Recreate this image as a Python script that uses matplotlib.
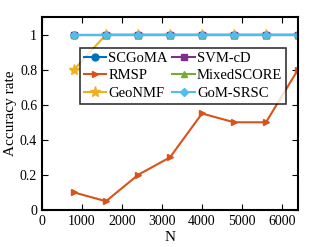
import matplotlib

matplotlib.use("Agg")
import matplotlib.pyplot as plt

plt.rcParams["font.family"] = ["Liberation Serif", "DejaVu Serif"]
plt.rcParams["mathtext.fontset"] = "stix"

N = [800, 1600, 2400, 3200, 4000, 4800, 5600, 6400]
scgoma = [1, 1, 1, 1, 1, 1, 1, 1]
rmsp = [0.1, 0.05, 0.2, 0.3, 0.55, 0.5, 0.5, 0.8]
geonmf = [0.8, 1, 1, 1, 1, 1, 1, 1]
svmcd = [1, 1, 1, 1, 1, 1, 1, 1]
mixedscore = [1, 1, 1, 1, 1, 1, 1, 1]
gomsrsc = [1, 1, 1, 1, 1, 1, 1, 1]

series = [
    ("SCGoMA", scgoma, (0, 0.447, 0.741), "o"),
    ("RMSP", rmsp, (0.85, 0.325, 0.098), ">"),
    ("GeoNMF", geonmf, (0.929, 0.694, 0.125), "*"),
    ("SVM-cD", svmcd, (0.494, 0.184, 0.556), "s"),
    ("MixedSCORE", mixedscore, (0.466, 0.674, 0.188), "^"),
    ("GoM-SRSC", gomsrsc, (0.301, 0.745, 0.933), "D"),
]

fig = plt.figure(figsize=(3.29, 2.47), dpi=100)
ax = fig.add_axes([42 / 329, 37 / 247, 256 / 329, 193 / 247])

for name, vals, col, mk in series:
    ms = 8 if mk == "*" else 5
    if mk == "D":
        ms = 4
    ax.plot(N, vals, color=col, marker=mk, markersize=ms, linewidth=1.5,
            label=name)

ax.set_xlim(0, 6400)
ax.set_ylim(0, 1.1)
ax.set_xticks(range(0, 7000, 1000))
ax.set_yticks([0, 0.2, 0.4, 0.6, 0.8, 1])
ax.set_yticklabels(["0", "0.2", "0.4", "0.6", "0.8", "1"])
ax.tick_params(direction="in", top=True, right=True, labelsize=10, length=4,
               width=0.8)
for s in ax.spines.values():
    s.set_linewidth(1.5)
ax.set_xlabel("N", fontsize=11, labelpad=2)
ax.set_ylabel("Accuracy rate", fontsize=11, labelpad=2)

leg = ax.legend(ncol=2, loc="upper left", bbox_to_anchor=(0.148, 0.84),
                fontsize=10.5, frameon=True, fancybox=False, borderpad=0.25,
                handlelength=1.55, handletextpad=0.15, columnspacing=0.3,
                labelspacing=0.3, borderaxespad=0)
leg.get_frame().set_edgecolor("black")
leg.get_frame().set_linewidth(1.2)

fig.savefig("out.png", dpi=100)
